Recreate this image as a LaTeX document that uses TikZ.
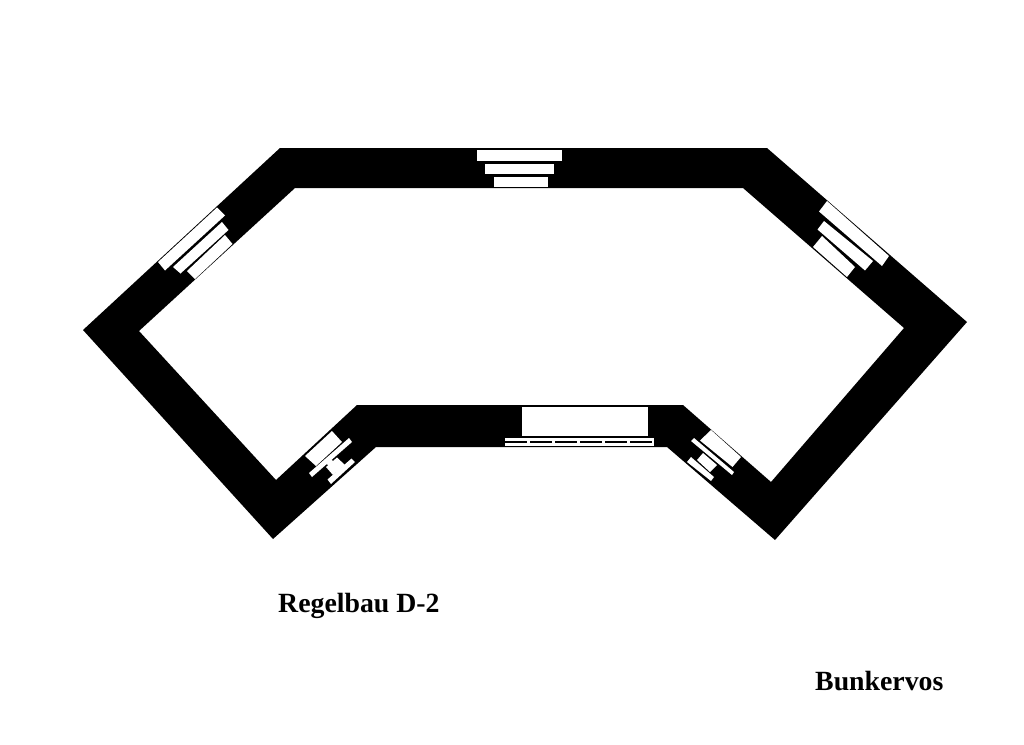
\documentclass[tikz,border=0pt]{standalone}
\usepackage{fontspec}
\setmainfont{Liberation Serif}
\usepackage{tikz}
\tikzset{
  wall/.style={fill=black, draw=none},
  opening/.style={fill=white, draw=none},
  caption/.style={anchor=base west, inner sep=0pt, font=\fontsize{27.8}{28}\selectfont\bfseries}
}

\begin{document}
\begin{tikzpicture}[x=1pt, y=-1pt]
  \useasboundingbox (0,0) rectangle (1024,744);
  \fill[white] (0,0) rectangle (1024,744);
  % outer outline, then the court
  \path[wall, even odd rule]
  (280,148) -- (767,148) -- (967,322) -- (775,540) -- (667,447) -- (376,447) -- (273,539) -- (83,330) -- cycle
  (295,188) -- (743,188) -- (904,328) -- (771,482) -- (683,405) -- (357,405) -- (276,480) -- (139,331) -- cycle;
  % top embrasure
  \foreach \xa/\ya/\xb/\yb in {477/150/562/161, 485/164/554/174, 494/177/548/187}
    \fill[opening] (\xa,\ya) rectangle (\xb,\yb);
  % slanted openings, four corners each
  \foreach \pa/\pb/\pc/\pd in {
    {217,207.5}/{225,215.5}/{165,270.5}/{158,262},
    {222,222}/{228.5,230}/{180.5,273.5}/{173,267},
    {225,235}/{232.5,244}/{195,279}/{187,271},
    {827,201}/{819,211.5}/{882,266}/{889,256},
    {824,221}/{817.5,229.5}/{865,270.5}/{873,261},
    {822,236}/{813,247}/{847,277}/{855,267},
    {332,431}/{342,442}/{316,466}/{305,456},
    {349,438}/{352,442}/{312,477}/{309,473},
    {337,457.5}/{345,465}/{333,475}/{326,467},
    {331,459}/{336,464}/{331,468}/{326,463},
    {351.5,458.5}/{355,462}/{331,484}/{327.5,479.5},
    {711,430}/{741,457}/{732.5,467}/{700,440.5},
    {694,438}/{734,472}/{732,475}/{691,441},
    {703,453}/{717,465}/{710,472}/{697,460},
    {691,457}/{714,477}/{711,481}/{687,462}}
    \fill[opening] (\pa) -- (\pb) -- (\pc) -- (\pd) -- cycle;
  % bottom door
  \fill[opening] (522,407) rectangle (648,436);
  \fill[opening] (505,438) rectangle (654,446);
  \draw[black, line width=1.2pt, dash pattern=on 22pt off 3pt] (505,442) -- (654,442);
  \node[caption] (type) at (278,612) {Regelbau D-2};
  \node[caption] (credit) at (815,690) {Bunkervos};
\end{tikzpicture}
\end{document}
